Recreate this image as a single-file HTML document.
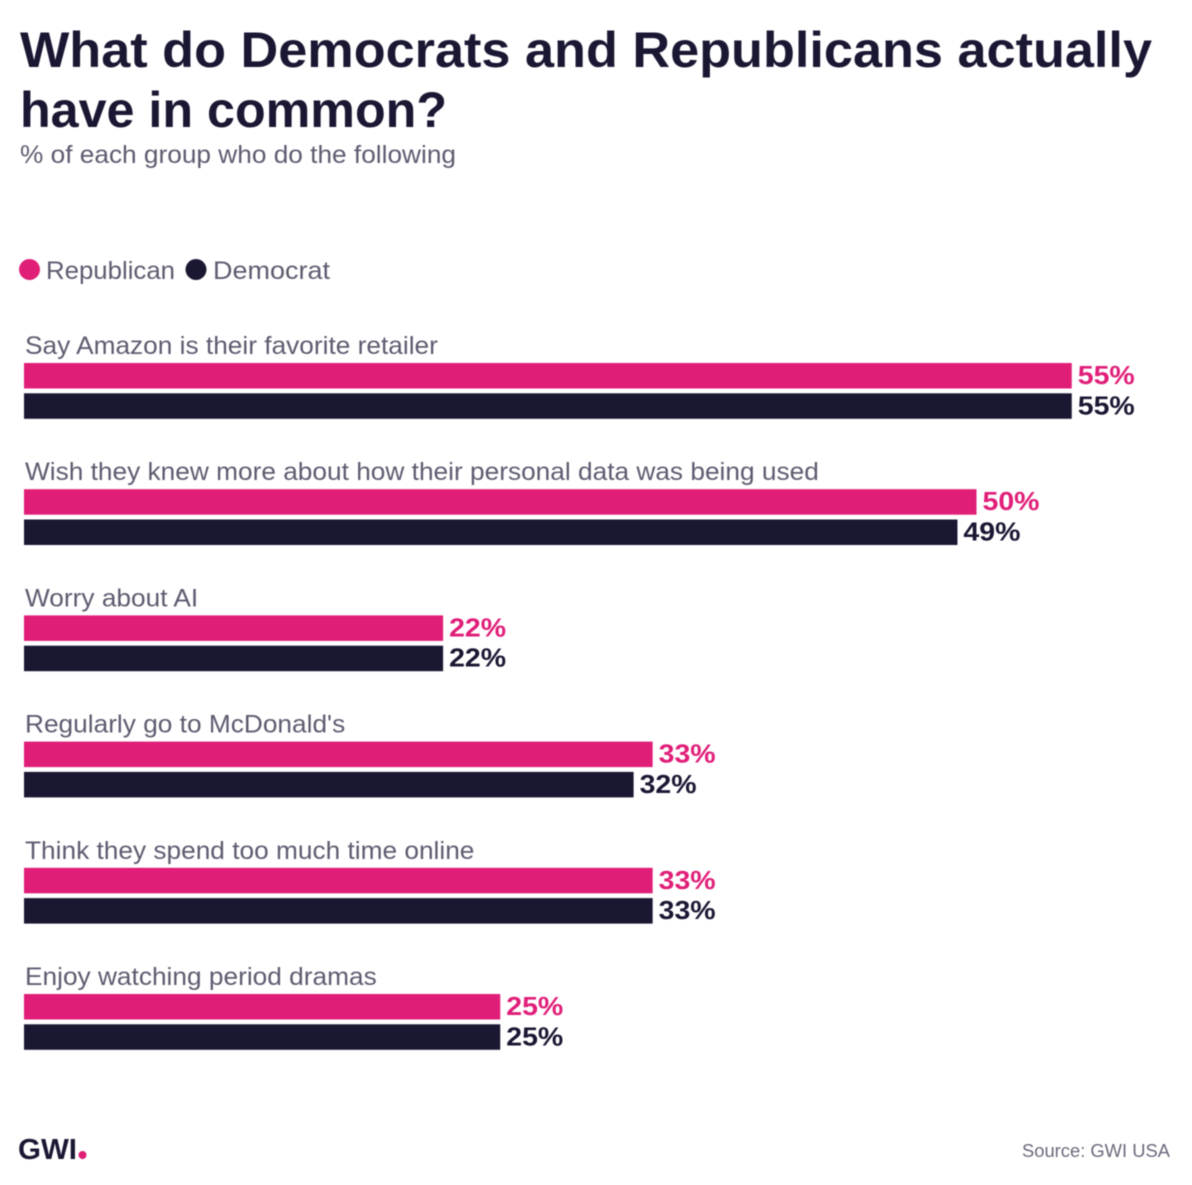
<!DOCTYPE html>
<html lang="en">
<head>
<meta charset="utf-8">
<title>What do Democrats and Republicans actually have in common?</title>
<style>
html,body{margin:0;padding:0;background:#fff;}
body{width:1192px;height:1185px;overflow:hidden;}
svg{display:block;filter:blur(0.4px);}
text{font-family:"Liberation Sans",sans-serif;}
</style>
</head>
<body>
<svg id="chart" xmlns="http://www.w3.org/2000/svg" width="1192" height="1185" viewBox="0 0 1192 1185">
  <text x="20" y="67" font-size="50" font-weight="700" fill="#1a1733" textLength="1132" lengthAdjust="spacingAndGlyphs">What do Democrats and Republicans actually</text>
  <text x="20" y="127" font-size="50" font-weight="700" fill="#1a1733" textLength="427" lengthAdjust="spacingAndGlyphs">have in common?</text>
  <text x="20" y="163" font-size="25" fill="#5d5c70" textLength="436" lengthAdjust="spacingAndGlyphs">% of each group who do the following</text>

  <circle cx="29.5" cy="269.5" r="10.5" fill="#e01e78"/>
  <text x="46" y="279" font-size="25" fill="#5d5c70" textLength="129" lengthAdjust="spacingAndGlyphs">Republican</text>
  <circle cx="196" cy="269.5" r="10.5" fill="#1a1733"/>
  <text x="213" y="279" font-size="25" fill="#5d5c70" textLength="117" lengthAdjust="spacingAndGlyphs">Democrat</text>

  <g id="plot"></g>

  <text x="18" y="1159" font-size="29" font-weight="700" fill="#1a1733" textLength="59" lengthAdjust="spacingAndGlyphs">GWI</text>
  <circle cx="82.5" cy="1155" r="4" fill="#e01e78"/>
  <text x="1022" y="1157" font-size="18" fill="#6b6a7c" textLength="148" lengthAdjust="spacingAndGlyphs">Source: GWI USA</text>
</svg>
<script>
const categories = [
  "Say Amazon is their favorite retailer",
  "Wish they knew more about how their personal data was being used",
  "Worry about AI",
  "Regularly go to McDonald's",
  "Think they spend too much time online",
  "Enjoy watching period dramas"
];
const republicanValues = [55, 50, 22, 33, 33, 25];
const democratValues = [55, 49, 22, 32, 33, 25];

const NS = "http://www.w3.org/2000/svg";
const plot = document.getElementById("plot");
const xOrigin = 24;
const pxPerPercent = 19.05;
const rowStart = 363;
const rowStep = 126.2;
const barHeight = 25.5;
const barGap = 30.3;
const labelStretch = 1.05;

function xScale(v) { return v * pxPerPercent; }
function rowTop(i) { return rowStart + i * rowStep; }

function make(tag, attrs) {
  const el = document.createElementNS(NS, tag);
  for (const k in attrs) el.setAttribute(k, attrs[k]);
  return el;
}

function drawBar(value, top, color, series) {
  const bar = make("rect", { x: xOrigin, y: top, width: xScale(value), height: barHeight, fill: color });
  
  
  plot.appendChild(bar);

  const label = make("text", {
    x: xOrigin + xScale(value) + 6, y: top + 21,
    "font-size": 26, "font-weight": 700, fill: color,
    textLength: 57, lengthAdjust: "spacingAndGlyphs"
  });
  
  
  label.textContent = value + "%";
  plot.appendChild(label);
}

categories.forEach(function (name, i) {
  const top = rowTop(i);
  const cat = make("text", {
    x: 25, y: top - 9, "font-size": 25, fill: "#5d5c70"
  });
  
  
  cat.textContent = name;
  plot.appendChild(cat);
  cat.setAttribute("textLength", (cat.getComputedTextLength() * labelStretch).toFixed(1));
  cat.setAttribute("lengthAdjust", "spacingAndGlyphs");
  drawBar(republicanValues[i], top, "#e01e78", "republican");
  drawBar(democratValues[i], top + barGap, "#1a1733", "democrat");
});
</script>
</body>
</html>
